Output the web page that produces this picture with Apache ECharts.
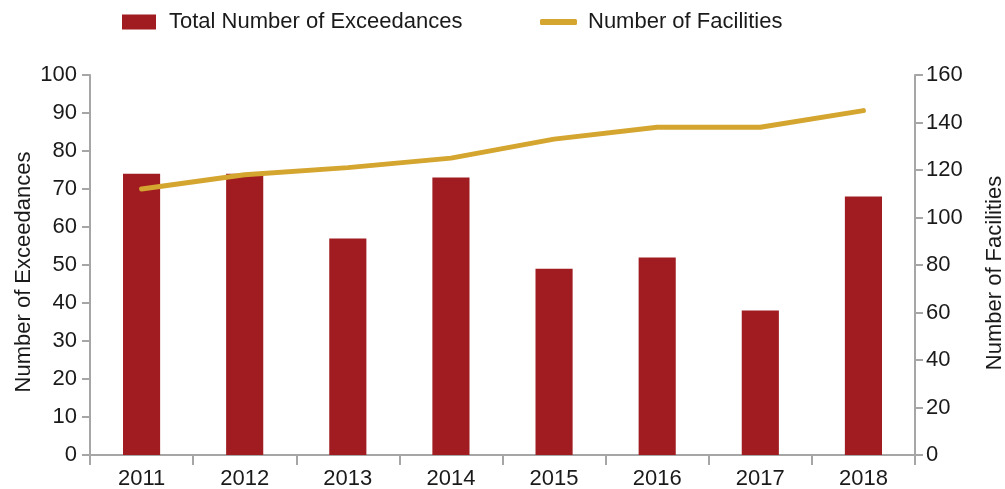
<!DOCTYPE html>
<html>
<head>
<meta charset="utf-8">
<script src="https://cdn.jsdelivr.net/npm/echarts@6/dist/echarts.min.js"></script>
<style>
  html, body { margin: 0; padding: 0; background: #ffffff; }
  #chart { width: 1005px; height: 489px; }
</style>
</head>
<body>
<div id="chart"></div>
<script>
// Yearly exceedances (bars, left axis) and facility count (line, right axis)
const years = ['2011', '2012', '2013', '2014', '2015', '2016', '2017', '2018'];
const exceedances = [74, 74, 57, 73, 49, 52, 38, 68];
const facilities = [112, 118, 121, 125, 133, 138, 138, 145];

const FONT = '"Liberation Sans", Arial, sans-serif';
const TEXT = '#1a1a1a';
const AXIS = '#a6a6a6';
const BAR = '#a01c20';
const LINE = '#d4a52f';
const FS = 22;

const chart = echarts.init(document.getElementById('chart'), null, { renderer: 'canvas' });

chart.setOption({
  animation: false,
  backgroundColor: '#ffffff',
  textStyle: { fontFamily: FONT },
  legend: [
    {
      left: 122,
      top: 11,
      padding: 0,
      itemWidth: 34,
      itemHeight: 15,
      icon: 'rect',
      data: ['Total Number of Exceedances'],
      textStyle: { fontFamily: FONT, fontSize: FS, color: TEXT, padding: [0, 0, 0, 8] }
    },
    {
      left: 540,
      top: 11,
      padding: 0,
      itemWidth: 37,
      itemHeight: 6,
      icon: 'roundRect',
      data: ['Number of Facilities'],
      textStyle: { fontFamily: FONT, fontSize: FS, color: TEXT, padding: [0, 0, 0, 6] }
    }
  ],
  grid: { left: 90, right: 90, top: 75, bottom: 34, containLabel: false, outerBoundsMode: 'none' },
  xAxis: {
    type: 'category',
    data: years,
    boundaryGap: true,
    axisLine: { lineStyle: { color: AXIS, width: 2 } },
    axisTick: { show: true, length: 10, lineStyle: { color: AXIS, width: 2 } },
    axisLabel: { fontFamily: FONT, fontSize: FS, color: TEXT, margin: 13 }
  },
  yAxis: [
    {
      type: 'value',
      min: 0,
      max: 100,
      interval: 10,
      name: 'Number of Exceedances',
      nameLocation: 'middle',
      nameMoveOverlap: false,
      nameGap: 55,
      nameTextStyle: { fontFamily: FONT, fontSize: FS, color: TEXT, padding: [0, 14, 0, 0] },
      axisLine: { show: true, lineStyle: { color: AXIS, width: 2 } },
      axisTick: { show: true, length: 8, lineStyle: { color: AXIS, width: 2 } },
      axisLabel: { fontFamily: FONT, fontSize: FS, color: TEXT, margin: 13 },
      splitLine: { show: false }
    },
    {
      type: 'value',
      position: 'right',
      min: 0,
      max: 160,
      interval: 20,
      name: 'Number of Facilities',
      nameLocation: 'middle',
      nameMoveOverlap: false,
      nameGap: 69,
      nameTextStyle: { fontFamily: FONT, fontSize: FS, color: TEXT, padding: [0, 16, 0, 0] },
      axisLine: { show: true, lineStyle: { color: AXIS, width: 2 } },
      axisTick: { show: true, length: 8, lineStyle: { color: AXIS, width: 2 } },
      axisLabel: { fontFamily: FONT, fontSize: FS, color: TEXT, margin: 11 },
      splitLine: { show: false }
    }
  ],
  series: [
    {
      name: 'Total Number of Exceedances',
      type: 'bar',
      yAxisIndex: 0,
      data: exceedances,
      barWidth: '36%',
      itemStyle: { color: BAR }
    },
    {
      name: 'Number of Facilities',
      type: 'line',
      yAxisIndex: 1,
      data: facilities,
      showSymbol: false,
      symbol: 'none',
      z: 5,
      lineStyle: { color: LINE, width: 5, cap: 'round', join: 'round' },
      itemStyle: { color: LINE }
    }
  ]
});
</script>
</body>
</html>
